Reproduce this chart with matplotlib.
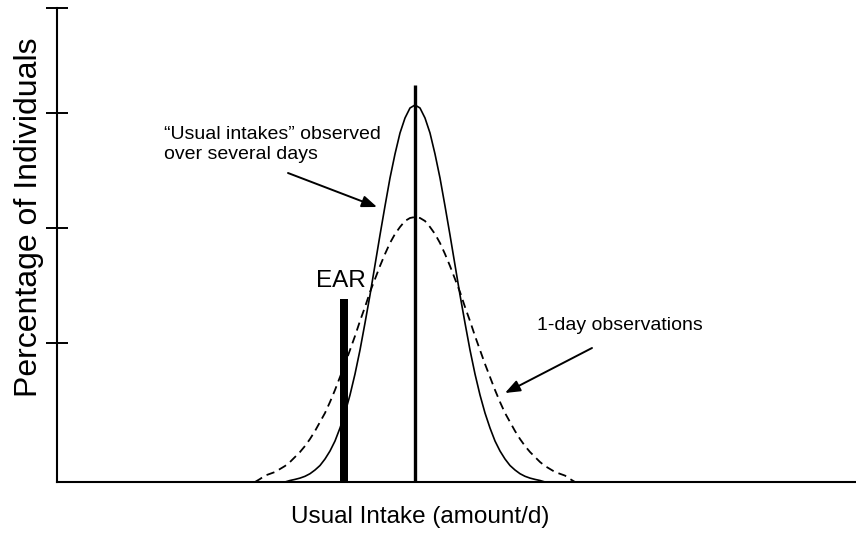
"""Usual vs 1-day intake distributions against the EAR."""
import matplotlib
matplotlib.use("Agg")
import matplotlib.pyplot as plt

plt.rcParams["font.family"] = ["Liberation Sans", "DejaVu Sans"]

usual_x = [228, 233, 238, 243, 248, 253, 258, 263, 268, 273, 278, 283, 288, 293,
           298, 303, 308, 313, 318, 323, 328, 333, 338, 343, 348, 353, 358,
           363, 368, 373, 378, 383, 388, 393, 398, 403, 408, 413, 418, 423,
           428, 433, 438, 443, 448, 453, 458, 463, 468, 473, 478, 483, 488]
usual_y = [0, 1.5, 2.6, 3.9, 5.7, 8.3, 12, 16.5, 23, 31, 41, 54, 69, 87,
           108, 132, 159, 187, 217, 247, 276, 304, 328, 349, 364, 374, 377,
           374, 364, 349, 328, 304, 276, 247, 217, 187, 159, 132, 108, 87,
           69, 54, 41, 31, 23, 16.5, 12, 8.3, 5.7, 3.9, 2.6, 1.5, 0]

# 1-day observation distribution (dashed)
oneday_x = [198, 203, 208, 213, 218, 223, 228, 233, 238, 243, 248, 253, 258, 263,
            268, 273, 278, 283, 288, 293, 298, 303, 308, 313, 318, 323, 328,
            333, 338, 343, 348, 353, 358, 363, 368, 373, 378, 383, 388, 393,
            398, 403, 408, 413, 418, 423, 428, 433, 438, 443, 448, 453, 458,
            463, 468, 473, 478, 483, 488, 493, 498, 503, 508, 513, 518]
oneday_y = [0, 3, 6.4, 8.2, 10, 13, 16, 20, 25, 30, 36, 43, 51, 60,
            69, 80, 92, 105, 118, 132, 146, 161, 175, 190, 203, 216, 228,
            239, 248, 255, 261, 264, 265, 264, 261, 255, 248, 239, 228, 216,
            203, 190, 175, 161, 146, 132, 118, 105, 92, 80, 69, 60, 51,
            43, 36, 30, 25, 20, 16, 13, 10, 8.2, 6.4, 3, 0]

median_x, median_h = 358, 397
ear_x, ear_h = 287, 183
ytick_vals = [139, 254, 369, 474]

fig = plt.figure(figsize=(8.56, 5.36), dpi=100)
ax = fig.add_axes([57 / 856, 54 / 536, 799 / 856, 474 / 536])

ax.plot(usual_x, usual_y, color="black", lw=1.2)
ax.plot(oneday_x, oneday_y, color="black", lw=1.3, dashes=(4.6, 2.9))
ax.vlines(median_x, 0, median_h, color="black", lw=2.4)
ax.bar(ear_x, ear_h, width=8, color="black")

ax.text(ear_x - 3, 195, "EAR", fontsize=17.5, ha="center", va="baseline")
ax.text(107, 323, "\u201cUsual intakes\u201d observed\nover several days",
        fontsize=14, ha="left", va="baseline", linespacing=1.25)
ax.text(480, 152, "1-day observations", fontsize=14, ha="left", va="baseline")

arrow = dict(arrowstyle="-|>,head_length=0.9,head_width=0.35", color="black",
             lw=1.4, shrinkA=0, shrinkB=0)
ax.annotate("", xy=(320, 275), xytext=(231, 309), arrowprops=arrow)
ax.annotate("", xy=(448, 89), xytext=(535, 134), arrowprops=arrow)

ax.set_xlim(0, 799)
ax.set_ylim(0, 474)
ax.set_xticks([])
ax.set_yticks(ytick_vals)
ax.set_yticklabels([])
ax.tick_params(axis="y", direction="inout", length=16, width=1.4)
for side in ("top", "right"):
    ax.spines[side].set_visible(False)
for side in ("left", "bottom"):
    ax.spines[side].set_linewidth(1.5)

fig.text(420 / 856, 13 / 536, "Usual Intake (amount/d)", fontsize=17.5,
         ha="center", va="baseline")
fig.text(29 / 856, 1 - 217 / 536, "Percentage of Individuals", fontsize=23,
         rotation=90, ha="center", va="center")

fig.savefig("out.png", dpi=100)
